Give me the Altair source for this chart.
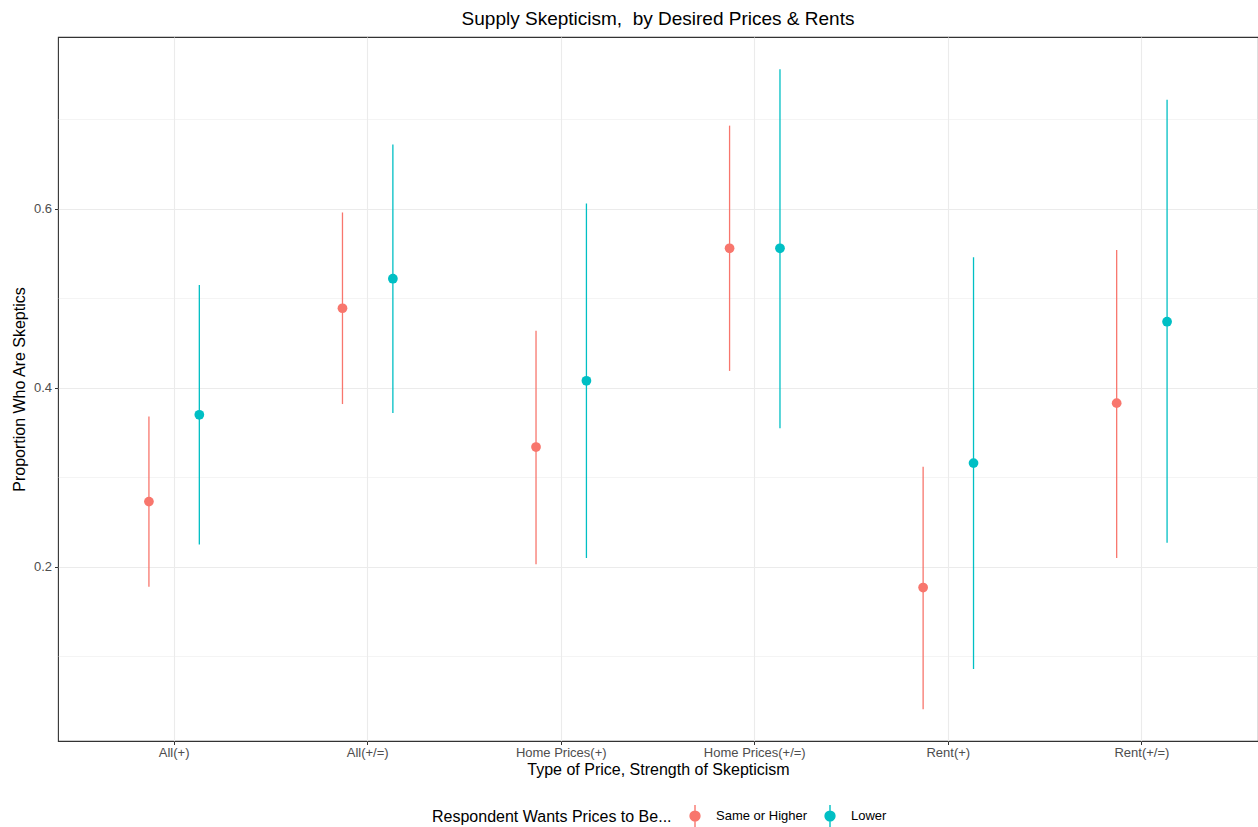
import altair as alt
import pandas as pd

categories = ["All(+)", "All(+/=)", "Home Prices(+)", "Home Prices(+/=)", "Rent(+)", "Rent(+/=)"]
groups = ["Same or Higher", "Lower"]

same_est = [0.273, 0.489, 0.334, 0.556, 0.177, 0.383]
same_lo = [0.178, 0.382, 0.203, 0.419, 0.041, 0.210]
same_hi = [0.368, 0.596, 0.464, 0.693, 0.312, 0.554]

lower_est = [0.370, 0.522, 0.408, 0.556, 0.316, 0.474]
lower_lo = [0.225, 0.372, 0.210, 0.355, 0.086, 0.227]
lower_hi = [0.515, 0.672, 0.606, 0.756, 0.546, 0.722]

rows = []
for i, c in enumerate(categories):
    rows.append({"cat": c, "grp": groups[0], "est": same_est[i], "lo": same_lo[i], "hi": same_hi[i]})
    rows.append({"cat": c, "grp": groups[1], "est": lower_est[i], "lo": lower_lo[i], "hi": lower_hi[i]})
df = pd.DataFrame(rows)

FONT = "Liberation Sans"
color_scale = alt.Scale(domain=groups, range=["#F8766D", "#00BFC4"])

x_enc = alt.X("cat:N", sort=categories, title="Type of Price, Strength of Skepticism",
              scale=alt.Scale(paddingInner=0, paddingOuter=0.1),
              axis=alt.Axis(labelAngle=0, labelFontSize=13, labelColor="#4D4D4D", labelFont=FONT,
                            titleFont=FONT, titleFontSize=16, titleColor="black", titleFontWeight="normal",
                            tickColor="#333333", tickSize=3.5, labelPadding=2, titlePadding=2,
                            domain=False, grid=True, gridColor="#EBEBEB", gridWidth=1.1))
xo_enc = alt.XOffset("grp:N", sort=groups, scale=alt.Scale(paddingOuter=0.92, paddingInner=0))

y_scale = alt.Scale(domain=[0.0056, 0.792], zero=False, nice=False)
y_axis = alt.Axis(values=[0.1, 0.2, 0.3, 0.4, 0.5, 0.6, 0.7],
                  labelExpr="round(datum.value*10) % 2 == 0 ? format(datum.value, '.1f') : ''",
                  gridColor="#EBEBEB",
                  gridWidth={"condition": {"test": "round(datum.value*10) % 2 == 0", "value": 1.1}, "value": 0.55},
                  tickOpacity={"condition": {"test": "round(datum.value*10) % 2 == 0", "value": 1}, "value": 0},
                  tickColor="#333333", tickSize=3.5, labelPadding=3,
                  labelFontSize=13, labelColor="#4D4D4D", labelFont=FONT,
                  titleFont=FONT, titleFontSize=16, titleColor="black", titleFontWeight="normal",
                  titlePadding=6, domain=False)

legend = alt.Legend(title="Respondent Wants Prices to Be...", orient="none", direction="horizontal",
                    titleOrient="left", legendX=374, legendY=767, titleLimit=400,
                    symbolType="M0,-1L0,1M-0.45,0A0.45,0.45,0,1,1,0.45,0A0.45,0.45,0,1,1,-0.45,0Z",
                    symbolSize=484, symbolStrokeWidth=1.4, titlePadding=11,
                    titleFont=FONT, titleFontSize=16, titleFontWeight="normal", titleColor="black",
                    labelFont=FONT, labelFontSize=13, labelColor="black", columnPadding=10, labelOffset=9)

base = alt.Chart(df)
rules = base.mark_rule(strokeWidth=1.3).encode(
    x=x_enc, xOffset=xo_enc,
    y=alt.Y("lo:Q", scale=y_scale, axis=y_axis, title="Proportion Who Are Skeptics"),
    y2="hi:Q",
    color=alt.Color("grp:N", scale=color_scale, legend=legend, sort=groups),
)
points = base.mark_point(filled=True, size=95, opacity=1).encode(
    x=x_enc, xOffset=xo_enc,
    y=alt.Y("est:Q", scale=y_scale),
    color=alt.Color("grp:N", scale=color_scale, legend=legend, sort=groups),
)

chart = alt.layer(rules, points).properties(
    width=1200, height=704,
    title=alt.Title("Supply Skepticism,\u00a0 by Desired Prices & Rents", font=FONT, fontSize=19,
                    fontWeight="normal", color="black", anchor="middle", offset=8),
    autosize=alt.AutoSizeParams(type="none"),
    padding={"left": 58, "top": 37, "right": 0, "bottom": 86},
).configure(background="white").configure_view(stroke="#333333", strokeWidth=1.1)

chart.save("out.html", embed_options={"renderer": "svg", "actions": False})
